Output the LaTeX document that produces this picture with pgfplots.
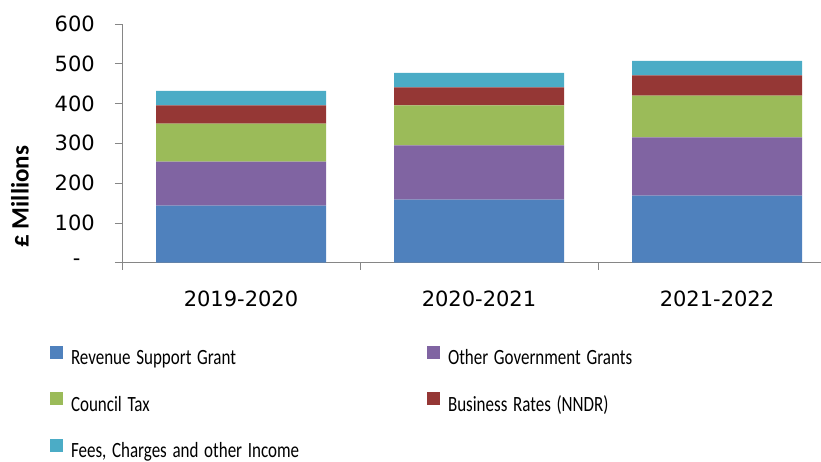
\documentclass[border=0pt]{standalone}
\usepackage{pgfplots}
\pgfplotsset{compat=1.18}
\usepackage{fontspec}
\setmainfont{DejaVu Sans}
\newfontfamily\legfont{Carlito}
\newfontfamily\labfont{Carlito}
\newcommand\leg[1]{\scalebox{1}[1.28]{#1}}
\definecolor{cRSG}{HTML}{4F81BD}
\definecolor{cOGG}{HTML}{8064A2}
\definecolor{cCT}{HTML}{9BBB59}
\definecolor{cBR}{HTML}{953735}
\definecolor{cFee}{HTML}{4BACC6}
\definecolor{axgray}{HTML}{868686}
\pgfplotstableread{
x rsg ogg ct br fee
0 143.3 110.7 95.5 46.1 36.1
1 158.4 136.6 100.6 45.4 36.1
2 168.5 146.5 105.0 51.1 36.0
}\datatable
\begin{document}
\begin{tikzpicture}
\useasboundingbox (0,0) rectangle (821pt,462pt);
\begin{axis}[
  at={(122pt,199.3pt)}, anchor=south west,
  scale only axis, width=699pt, height=238.7pt,
  ybar stacked, bar width=170pt,
  xmin=-0.5, xmax=2.437, ymin=0, ymax=600,
  axis x line=bottom, axis y line=left,
  axis line style={-, draw=axgray},
  tick style={draw=axgray, line width=0.8pt},
  tick align=outside, major tick length=7pt,
  xtick={-0.5,0.5,1.5},
  xticklabels={2019-2020,2020-2021,2021-2022},
  xticklabel style={anchor=center, xshift=119pt, yshift=-29pt, inner sep=0pt, font=\fontsize{21}{25}\selectfont},
  ytick={0,100,200,300,400,500,600},
  yticklabels={\makebox[22pt][l]{-},100,200,300,400,500,600},
  yticklabel style={anchor=east, inner sep=0pt, xshift=-20pt, font=\fontsize{21}{25}\selectfont},
  /pgf/number format/assume math mode=true,
  ylabel={\labfont\bfseries\fontsize{25}{30}\selectfont £ Millions},
  y label style={at={(axis description cs:-0.146,0.277)}, anchor=center},
  legend columns=2,
  legend cell align=left,
  legend image code/.code={\fill[#1,draw=none] (0pt,0.5pt) rectangle (13pt,13.5pt);},
  legend style={draw=none, fill=none, inner sep=0pt, outer sep=0pt,
    at={(axis description cs:-0.103,-0.3477)}, anchor=north west,
    font=\legfont\fontsize{17}{20}\selectfont,
    nodes={inner sep=0pt, text height=16pt, text depth=5pt, text width=345pt, align=left},
    /tikz/every odd column/.style={column sep=8pt},
    /tikz/every even column/.style={column sep=11pt},
    row sep=22.5pt},
]
\addplot[fill=cRSG, draw=none] table[x=x, y=rsg] {\datatable};
\addplot[fill=cOGG, draw=none] table[x=x, y=ogg] {\datatable};
\addplot[fill=cCT, draw=none] table[x=x, y=ct] {\datatable};
\addplot[fill=cBR, draw=none] table[x=x, y=br] {\datatable};
\addplot[fill=cFee, draw=none] table[x=x, y=fee] {\datatable};
\legend{\leg{Revenue Support Grant}, \leg{Other Government Grants}, \leg{Council Tax}, \leg{Business Rates (NNDR)}, \leg{Fees, Charges and other Income}}
\end{axis}
\end{tikzpicture}
\end{document}
